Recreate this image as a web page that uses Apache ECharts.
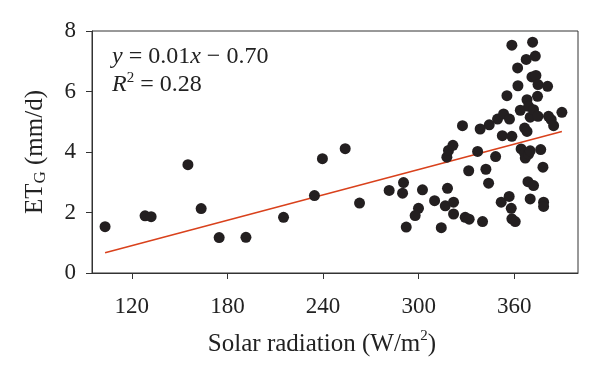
<!DOCTYPE html>
<html>
<head>
<meta charset="utf-8">
<script src="https://cdn.jsdelivr.net/npm/echarts@6/dist/echarts.min.js"></script>
<style>html,body{margin:0;padding:0;background:#fff}#c{width:600px;height:371px}</style>
</head>
<body>
<div id="c"></div>
<script>
// Solar radiation (W/m2) for each observation
const radiation = [
  103.2,128.3,132.1,155.2,163.5,174.8,191.6,215.2,
  234.6,239.6,253.9,262.9,281.5,289.9,290.5,292.2,
  302.4,299.9,297.8,310.0,314.2,316.7,318.1,321.9,321.9,329.2,331.7,340.1,
  317.7,318.7,321.5,327.5,331.4,337.0,338.6,342.2,343.9,344.3,348.3,349.5,351.8,
  352.5,353.3,355.4,357.0,358.5,358.5,362.1,362.3,363.8,364.3,366.5,366.9,366.5,367.5,368.0,368.0,369.0,369.0,370.0,370.0,
  371.1,371.5,372.1,373.2,373.6,374.6,374.9,374.9,376.6,378.0,380.9,381.5,383.2,384.7,389.9,
  368.6,372.1,370.0,378.4,378.4,356.8,358.1,358.5,360.6
];
// ET_G (mm/d) for each observation
const etg = [
  1.53,1.89,1.86,3.58,2.13,1.17,1.18,1.84,
  2.56,3.78,4.11,2.31,2.73,2.64,2.99,1.52,
  2.75,2.14,1.90,2.39,1.50,2.22,2.80,2.34,1.95,1.84,1.78,1.70,
  3.83,4.05,4.22,4.87,3.38,4.02,4.76,3.43,2.97,4.90,3.85,5.09,2.34,
  4.54,5.26,5.86,5.09,4.52,7.53,6.78,6.19,5.38,4.10,3.96,3.80,4.79,7.06,5.73,4.68,5.51,3.93,5.15,4.04,
  6.48,7.63,5.40,7.17,6.53,5.84,6.23,5.18,4.08,3.50,6.17,5.18,5.07,4.87,5.31,
  3.02,2.89,2.45,2.34,2.20,2.53,2.14,1.79,1.70
];
// fitted line end points
const fitX = [103.2, 389.9];
const fitY = [0.67, 4.68];
const xTicks = [120, 180, 240, 300, 360];

const FONT = 'Liberation Serif';
const chart = echarts.init(document.getElementById('c'), null, {renderer: 'canvas'});
chart.setOption({
  animation: false,
  grid: {left: 92, right: 22, top: 31, bottom: 98, show: true, borderColor: '#333', borderWidth: 1, backgroundColor: 'transparent'},
  xAxis: {
    type: 'value', min: 95, max: 400,
    splitLine: {show: false},
    axisLine: {show: true, onZero: false, lineStyle: {color: '#333', width: 1}},
    axisTick: {show: true, inside: false, length: 6, customValues: xTicks, lineStyle: {color: '#333'}},
    axisLabel: {customValues: xTicks, color: '#222', fontFamily: FONT, fontSize: 23, margin: 22},
    name: 'Solar radiation (W/m{sup|2})',
    nameLocation: 'middle', nameGap: 56,
    nameTextStyle: {color: '#222', fontFamily: FONT, fontSize: 25, padding: [0, 26, 0, 0],
      rich: {sup: {fontFamily: FONT, fontSize: 15, verticalAlign: 'top', lineHeight: 30, padding: [0,0,10,0]}}}
  },
  yAxis: {
    type: 'value', min: 0, max: 8, interval: 2,
    splitLine: {show: false},
    axisLine: {show: true, lineStyle: {color: '#333', width: 1}},
    axisTick: {show: true, inside: false, length: 6, lineStyle: {color: '#333'}},
    axisLabel: {color: '#222', fontFamily: FONT, fontSize: 23, margin: 16},
    name: '{n|ET}{sub|G}{n| (mm/d)}',
    nameLocation: 'middle', nameRotate: 90, nameGap: 43,
    nameTextStyle: {color: '#222', fontFamily: FONT, fontSize: 25,
      rich: {n: {fontFamily: FONT, fontSize: 25, lineHeight: 28},
             sub: {fontFamily: FONT, fontSize: 17, lineHeight: 28, verticalAlign: 'bottom', padding: [9,0,0,0]}}}
  },
  graphic: [{
    type: 'text', left: 112, top: 43, z: 10,
    style: {
      text: '{i|y} = 0.01{i|x} − 0.70\n{i|R}{sup|2} = 0.28',
      font: '24px "Liberation Serif"', fill: '#222', lineHeight: 28,
      rich: {
        i: {fontFamily: FONT, fontSize: 24, fontStyle: 'italic', fill: '#222', lineHeight: 28},
        sup: {fontFamily: FONT, fontSize: 15, fill: '#222', verticalAlign: 'top', lineHeight: 28, padding: [0,0,11,0]}
      }
    }
  }],
  series: [
    {
      type: 'line', data: fitX.map((x, i) => [x, fitY[i]]), symbol: 'none',
      lineStyle: {color: '#d9411c', width: 1.5}, z: 1
    },
    {
      type: 'scatter', data: radiation.map((x, i) => [x, etg[i]]),
      symbol: 'circle', symbolSize: 11,
      itemStyle: {color: '#231f20', opacity: 1}, z: 2
    }
  ]
});
</script>
</body>
</html>
